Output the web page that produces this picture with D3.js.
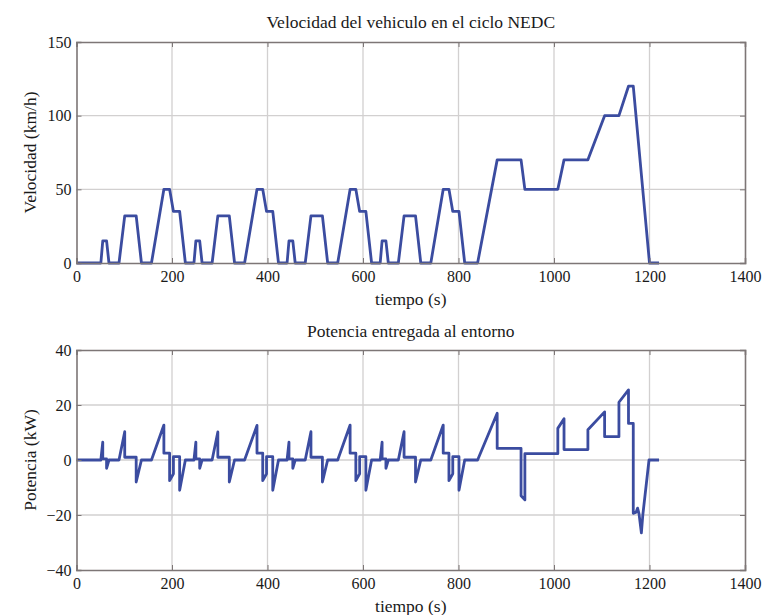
<!DOCTYPE html>
<html>
<head>
<meta charset="utf-8">
<script src="https://cdn.jsdelivr.net/npm/d3@7"></script>
<style>
  body { margin: 0; background: #fff; }
  text { font-family: "Liberation Serif", "Times New Roman", serif; fill: #1a1a1a; }
</style>
</head>
<body>
<div id="chart"></div>
<script>
// NEDC speed profile (time s, speed km/h)
const speedTime = [
  0, 51, 55, 63, 68, 89, 101, 125, 136, 157, 183, 195, 203, 216, 228,
  246, 250, 258, 263, 284, 296, 320, 331, 352, 378, 390, 398, 411, 423,
  441, 445, 453, 458, 479, 491, 515, 526, 547, 573, 585, 593, 606, 618,
  636, 640, 648, 653, 674, 686, 710, 721, 742, 768, 780, 788, 801, 813,
  840, 881, 931, 939, 1008, 1021, 1071, 1106, 1136, 1156, 1166, 1200, 1220
];
const speedValue = [
  0, 0, 15, 15, 0, 0, 32, 32, 0, 0, 50, 50, 35, 35, 0,
  0, 15, 15, 0, 0, 32, 32, 0, 0, 50, 50, 35, 35, 0,
  0, 15, 15, 0, 0, 32, 32, 0, 0, 50, 50, 35, 35, 0,
  0, 15, 15, 0, 0, 32, 32, 0, 0, 50, 50, 35, 35, 0,
  0, 70, 70, 50, 50, 70, 70, 100, 100, 120, 120, 0, 0
];

// power delivered (time s, kW)
const powerPoints = [
  [0, 0], [51, 0], [55, 6.5], [55, 0.4], [63, 0.4], [63, -3], [68, 0], [89, 0], [101, 10.3], [101, 1.0],
  [125, 1.0], [125, -8], [136, 0], [157, 0], [183, 12.7], [183, 2.5], [195, 2.5], [195, -7.5], [203, -5],
  [203, 1.2], [216, 1.2], [216, -11], [228, 0],
  [246, 0], [250, 6.5], [250, 0.4], [258, 0.4], [258, -3], [263, 0], [284, 0], [296, 10.2], [296, 1.0],
  [320, 1.0], [320, -8], [331, 0], [352, 0], [378, 12.6], [378, 2.5], [390, 2.5], [390, -7.5], [398, -5],
  [398, 1.2], [411, 1.2], [411, -11], [423, 0],
  [441, 0], [445, 6.5], [445, 0.4], [453, 0.4], [453, -3], [458, 0], [479, 0], [491, 10.3], [491, 1.0],
  [515, 1.0], [515, -8], [526, 0], [547, 0], [573, 12.7], [573, 2.5], [585, 2.5], [585, -7.5], [593, -5],
  [593, 1.2], [606, 1.2], [606, -11], [618, 0],
  [636, 0], [640, 6.5], [640, 0.4], [648, 0.4], [648, -3], [653, 0], [674, 0], [686, 10.3], [686, 1.0],
  [710, 1.0], [710, -8], [721, 0], [742, 0], [768, 12.7], [768, 2.5], [780, 2.5], [780, -7.5], [788, -5],
  [788, 1.2], [801, 1.2], [801, -11], [813, 0],
  [840, 0], [881, 17], [881, 4.2], [931, 4.2], [931, -13], [939, -14.5], [939, 2.3], [1008, 2.3],
  [1008, 11.5], [1021, 15], [1021, 3.8], [1071, 3.8], [1071, 11], [1106, 17.5], [1106, 8.5], [1136, 8.5],
  [1136, 21], [1156, 25.5], [1156, 13.3], [1166, 13.3], [1166, -19.4], [1172, -19], [1175, -17.5],
  [1178, -19.5], [1183, -26.5], [1186, -20], [1199, 0], [1220, 0]
];

const timeTicks = [0, 200, 400, 600, 800, 1000, 1200, 1400];
const speedTicks = [0, 50, 100, 150];
const powerTicks = [-40, -20, 0, 20, 40];

const titleTop = "Velocidad del vehiculo en el ciclo NEDC";
const titleBottom = "Potencia entregada al entorno";
const xLabel = "tiempo (s)";
const speedLabel = "Velocidad (km/h)";
const powerLabel = "Potencia (kW)";

const width = 768;
const height = 615;
const lineColor = "#3b4ca0";

const svg = d3.select("#chart").append("svg")
    .attr("width", width)
    .attr("height", height);

function drawPanel(opts) {
    const x = d3.scaleLinear().domain([0, 1400]).range([opts.left, opts.right]);
    const y = d3.scaleLinear().domain(opts.yDomain).range([opts.bottom, opts.top]);

    const g = svg.append("g");

    // grid
    g.selectAll(".vgrid")
        .data(timeTicks.slice(1, -1))
        .join("line")
        .attr("x1", d => x(d)).attr("x2", d => x(d))
        .attr("y1", opts.top).attr("y2", opts.bottom)
        .attr("stroke", "#d2d0d0").attr("stroke-width", 1.3);
    g.selectAll(".hgrid")
        .data(opts.yTicks.slice(1, -1))
        .join("line")
        .attr("x1", opts.left).attr("x2", opts.right)
        .attr("y1", d => y(d)).attr("y2", d => y(d))
        .attr("stroke", "#d2d0d0").attr("stroke-width", 1.3);

    // data line
    const line = d3.line().x(d => x(d[0])).y(d => y(d[1]));
    g.append("path")
        .datum(opts.data)
        .attr("d", line)
        .attr("fill", "none")
        .attr("stroke", lineColor)
        .attr("stroke-width", 2.8)
        .attr("stroke-linejoin", "round");

    // axes, ticks pointing inwards
    g.append("g")
        .attr("transform", `translate(0,${opts.bottom})`)
        .call(d3.axisBottom(x).tickValues(timeTicks).tickFormat(d3.format("d")).tickSize(-5).tickPadding(8));
    g.append("g")
        .attr("transform", `translate(${opts.left},0)`)
        .call(d3.axisLeft(y).tickValues(opts.yTicks).tickFormat(d3.format("d")).tickSize(-5).tickPadding(5));
    g.append("g")
        .attr("transform", `translate(0,${opts.top})`)
        .call(d3.axisTop(x).tickValues(timeTicks).tickSize(-5).tickFormat(""));
    g.append("g")
        .attr("transform", `translate(${opts.right},0)`)
        .call(d3.axisRight(y).tickValues(opts.yTicks).tickSize(-5).tickFormat(""));

    g.selectAll(".domain").attr("stroke", "#7d7676").attr("stroke-width", 1.6);
    g.selectAll(".tick line").attr("stroke", "#7d7676");
    g.selectAll(".tick text")
        .style("font-family", '"Liberation Serif", "Times New Roman", serif')
        .style("font-size", "16px")
        .attr("fill", "#1a1a1a");

    // titles and labels
    const cx = (opts.left + opts.right) / 2 + 0;
    g.append("text")
        .attr("x", cx).attr("y", opts.titleY)
        .attr("text-anchor", "middle")
        .style("font-size", "17.5px")
        .text(opts.title);
    g.append("text")
        .attr("x", cx).attr("y", opts.bottom + 42)
        .attr("text-anchor", "middle")
        .style("font-size", "17.5px")
        .text(xLabel);
    g.append("text")
        .attr("transform", `translate(36,${(opts.top + opts.bottom) / 2}) rotate(-90)`)
        .attr("text-anchor", "middle")
        .style("font-size", "17.5px")
        .text(opts.yLabel);
}

drawPanel({
    left: 76.5, right: 745, top: 42, bottom: 263,
    yDomain: [0, 150], yTicks: speedTicks,
    data: speedTime.map((t, i) => [t, speedValue[i]]),
    title: titleTop, titleY: 28, yLabel: speedLabel
});

drawPanel({
    left: 76.5, right: 745, top: 350, bottom: 570,
    yDomain: [-40, 40], yTicks: powerTicks,
    data: powerPoints,
    title: titleBottom, titleY: 337, yLabel: powerLabel
});
</script>
</body>
</html>
